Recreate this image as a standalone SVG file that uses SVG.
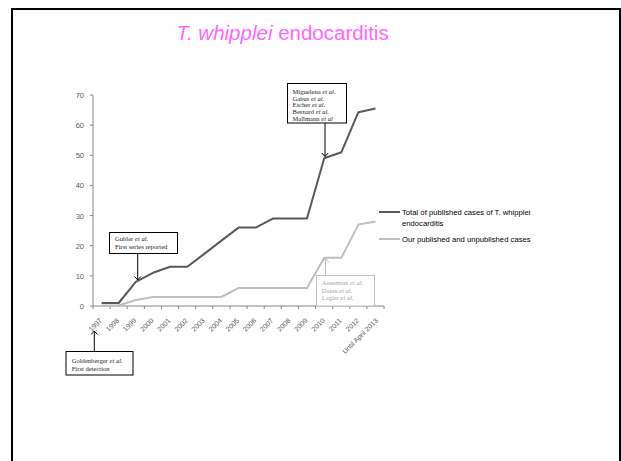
<svg xmlns="http://www.w3.org/2000/svg" width="621" height="461" viewBox="0 0 621 461">
<style>
.ax{stroke:#868686;stroke-width:1;fill:none}
.yl{font-family:"Liberation Sans",Arial,sans-serif;font-size:7.5px;fill:#595959;text-anchor:end}
.xl{font-family:"Liberation Sans",Arial,sans-serif;font-size:7px;fill:#595959;text-anchor:end}
.dark{stroke:#595959;stroke-width:2;fill:none;stroke-linejoin:round}
.light{stroke:#bfbfbf;stroke-width:2;fill:none;stroke-linejoin:round}
.lg{font-family:"Liberation Sans",Arial,sans-serif;font-size:7.7px;fill:#000}
.an{font-family:"Liberation Serif","Times New Roman",serif;font-size:6.6px;fill:#262626}
.ang{font-family:"Liberation Serif","Times New Roman",serif;font-size:6.6px;fill:#a6a6a6}
.box{fill:#fff;stroke:#000;stroke-width:1}
.boxg{fill:#fff;stroke:#bfbfbf;stroke-width:1}
</style>
<defs>
<marker id="ah" markerWidth="8" markerHeight="8" refX="4" refY="4" orient="auto" markerUnits="userSpaceOnUse"><polyline points="0.5,0.8 4,4 0.5,7.2" fill="none" stroke="#000" stroke-width="1"/></marker>
<marker id="ahg" markerWidth="8" markerHeight="8" refX="4" refY="4" orient="auto" markerUnits="userSpaceOnUse"><polyline points="0.5,0.8 4,4 0.5,7.2" fill="none" stroke="#bfbfbf" stroke-width="1"/></marker>
</defs>
<rect x="12" y="9" width="608" height="470" fill="#fff" stroke="#000" stroke-width="2"/>
<text x="282.5" y="40" text-anchor="middle" font-family="Liberation Sans,Arial,sans-serif" font-size="20.5" fill="#ff66ff"><tspan font-style="italic">T. whipplei</tspan> endocarditis</text>
<g id="axes">
<path class="ax" d="M93,95V306H384"/>
<path class="ax" d="M90,95H93M90,125.2H93M90,155.3H93M90,185.4H93M90,215.6H93M90,245.7H93M90,275.9H93M90,306H93"/>
<path class="ax" d="M93,306v3M110.1,306v3M127.2,306v3M144.4,306v3M161.5,306v3M178.6,306v3M195.7,306v3M212.8,306v3M230,306v3M247.1,306v3M264.2,306v3M281.3,306v3M298.4,306v3M315.6,306v3M332.7,306v3M349.8,306v3M366.9,306v3M384,306v3"/>
<text class="yl" x="84" y="98">70</text>
<text class="yl" x="84" y="128.2">60</text>
<text class="yl" x="84" y="158.3">50</text>
<text class="yl" x="84" y="188.4">40</text>
<text class="yl" x="84" y="218.6">30</text>
<text class="yl" x="84" y="248.7">20</text>
<text class="yl" x="84" y="278.9">10</text>
<text class="yl" x="84" y="309">0</text>
<text class="xl" transform="translate(102.6,321) rotate(-45)">1997</text>
<text class="xl" transform="translate(119.7,321) rotate(-45)">1998</text>
<text class="xl" transform="translate(136.8,321) rotate(-45)">1999</text>
<text class="xl" transform="translate(154,321) rotate(-45)">2000</text>
<text class="xl" transform="translate(171.1,321) rotate(-45)">2001</text>
<text class="xl" transform="translate(188.2,321) rotate(-45)">2002</text>
<text class="xl" transform="translate(205.3,321) rotate(-45)">2003</text>
<text class="xl" transform="translate(222.4,321) rotate(-45)">2004</text>
<text class="xl" transform="translate(239.6,321) rotate(-45)">2005</text>
<text class="xl" transform="translate(256.7,321) rotate(-45)">2006</text>
<text class="xl" transform="translate(273.8,321) rotate(-45)">2007</text>
<text class="xl" transform="translate(290.9,321) rotate(-45)">2008</text>
<text class="xl" transform="translate(308,321) rotate(-45)">2009</text>
<text class="xl" transform="translate(325.2,321) rotate(-45)">2010</text>
<text class="xl" transform="translate(342.3,321) rotate(-45)">2011</text>
<text class="xl" transform="translate(359.4,321) rotate(-45)">2012</text>
<text class="xl" transform="translate(378.5,321) rotate(-45)">Until April 2013</text>
</g>
<g id="series">
<polyline class="light" points="101.6,305.5 118.7,305.5 135.8,300 153,297 170.1,297 187.2,297 204.3,297 221.4,297 238.6,287.9 255.7,287.9 272.8,287.9 289.9,287.9 307,287.9 324.2,257.8 341.3,257.8 358.4,224.6 375.5,221.6"/>
<polyline class="dark" points="101.6,303 118.7,303 135.8,281.9 153,272.8 170.1,266.8 187.2,266.8 204.3,253.9 221.4,240.6 238.6,227.6 255.7,227.6 272.8,218.6 289.9,218.6 307,218.6 324.2,158.3 341.3,152.3 358.4,112.2 375.5,108.6"/>
</g>
<g id="legend">
<line x1="379" y1="212" x2="400" y2="212" class="dark"/>
<text class="lg" x="402" y="214.7">Total of published cases of T. whipplei</text>
<text class="lg" x="402" y="226.2">endocarditis</text>
<line x1="379" y1="239" x2="400" y2="239" class="light"/>
<text class="lg" x="402" y="241.7">Our published and unpublished cases</text>
</g>
<g id="connectors">
<line x1="137.7" y1="253.5" x2="137.7" y2="280" stroke="#000" stroke-width="1" marker-end="url(#ah)"/>
<line x1="325" y1="123" x2="325" y2="156.5" stroke="#000" stroke-width="1" marker-end="url(#ah)"/>
<line x1="94.3" y1="351.5" x2="94.3" y2="331" stroke="#000" stroke-width="1" marker-end="url(#ah)"/>
<line x1="325.5" y1="275.5" x2="325.5" y2="258.5" stroke="#bfbfbf" stroke-width="1" marker-end="url(#ahg)"/>
</g>
<g id="gubler">
<rect class="box" x="109.5" y="232.5" width="68" height="21"/>
<text class="an" x="115" y="241">Gubler <tspan font-style="italic">et al.</tspan></text>
<text class="an" x="115" y="249">First series reported</text>
</g>
<g id="miguelena">
<rect class="box" x="287.5" y="83.5" width="59" height="39.5"/>
<text class="an" x="292.5" y="94">Miguelena <tspan font-style="italic">et al.</tspan></text>
<text class="an" x="292.5" y="100.7">Gabus <tspan font-style="italic">et al.</tspan></text>
<text class="an" x="292.5" y="107.4">Escher <tspan font-style="italic">et al.</tspan></text>
<text class="an" x="292.5" y="114.1">Besnard <tspan font-style="italic">et al.</tspan></text>
<text class="an" x="292.5" y="120.8">Mallmann <tspan font-style="italic">et al</tspan></text>
</g>
<g id="goldenberger">
<rect class="box" x="66" y="351.5" width="67" height="23.5"/>
<text class="an" x="71.7" y="362.7">Goldenberger <tspan font-style="italic">et al.</tspan></text>
<text class="an" x="71.7" y="370.7">First detection</text>
</g>
<g id="ansemant">
<rect class="boxg" x="316.5" y="275.5" width="58" height="30.5"/>
<text class="ang" x="321.7" y="285">Ansemant <tspan font-style="italic">et al.</tspan></text>
<text class="ang" x="321.7" y="292.7">Daien <tspan font-style="italic">et al.</tspan></text>
<text class="ang" x="321.7" y="300.2">Lagier <tspan font-style="italic">et al.</tspan></text>
</g>
</svg>
